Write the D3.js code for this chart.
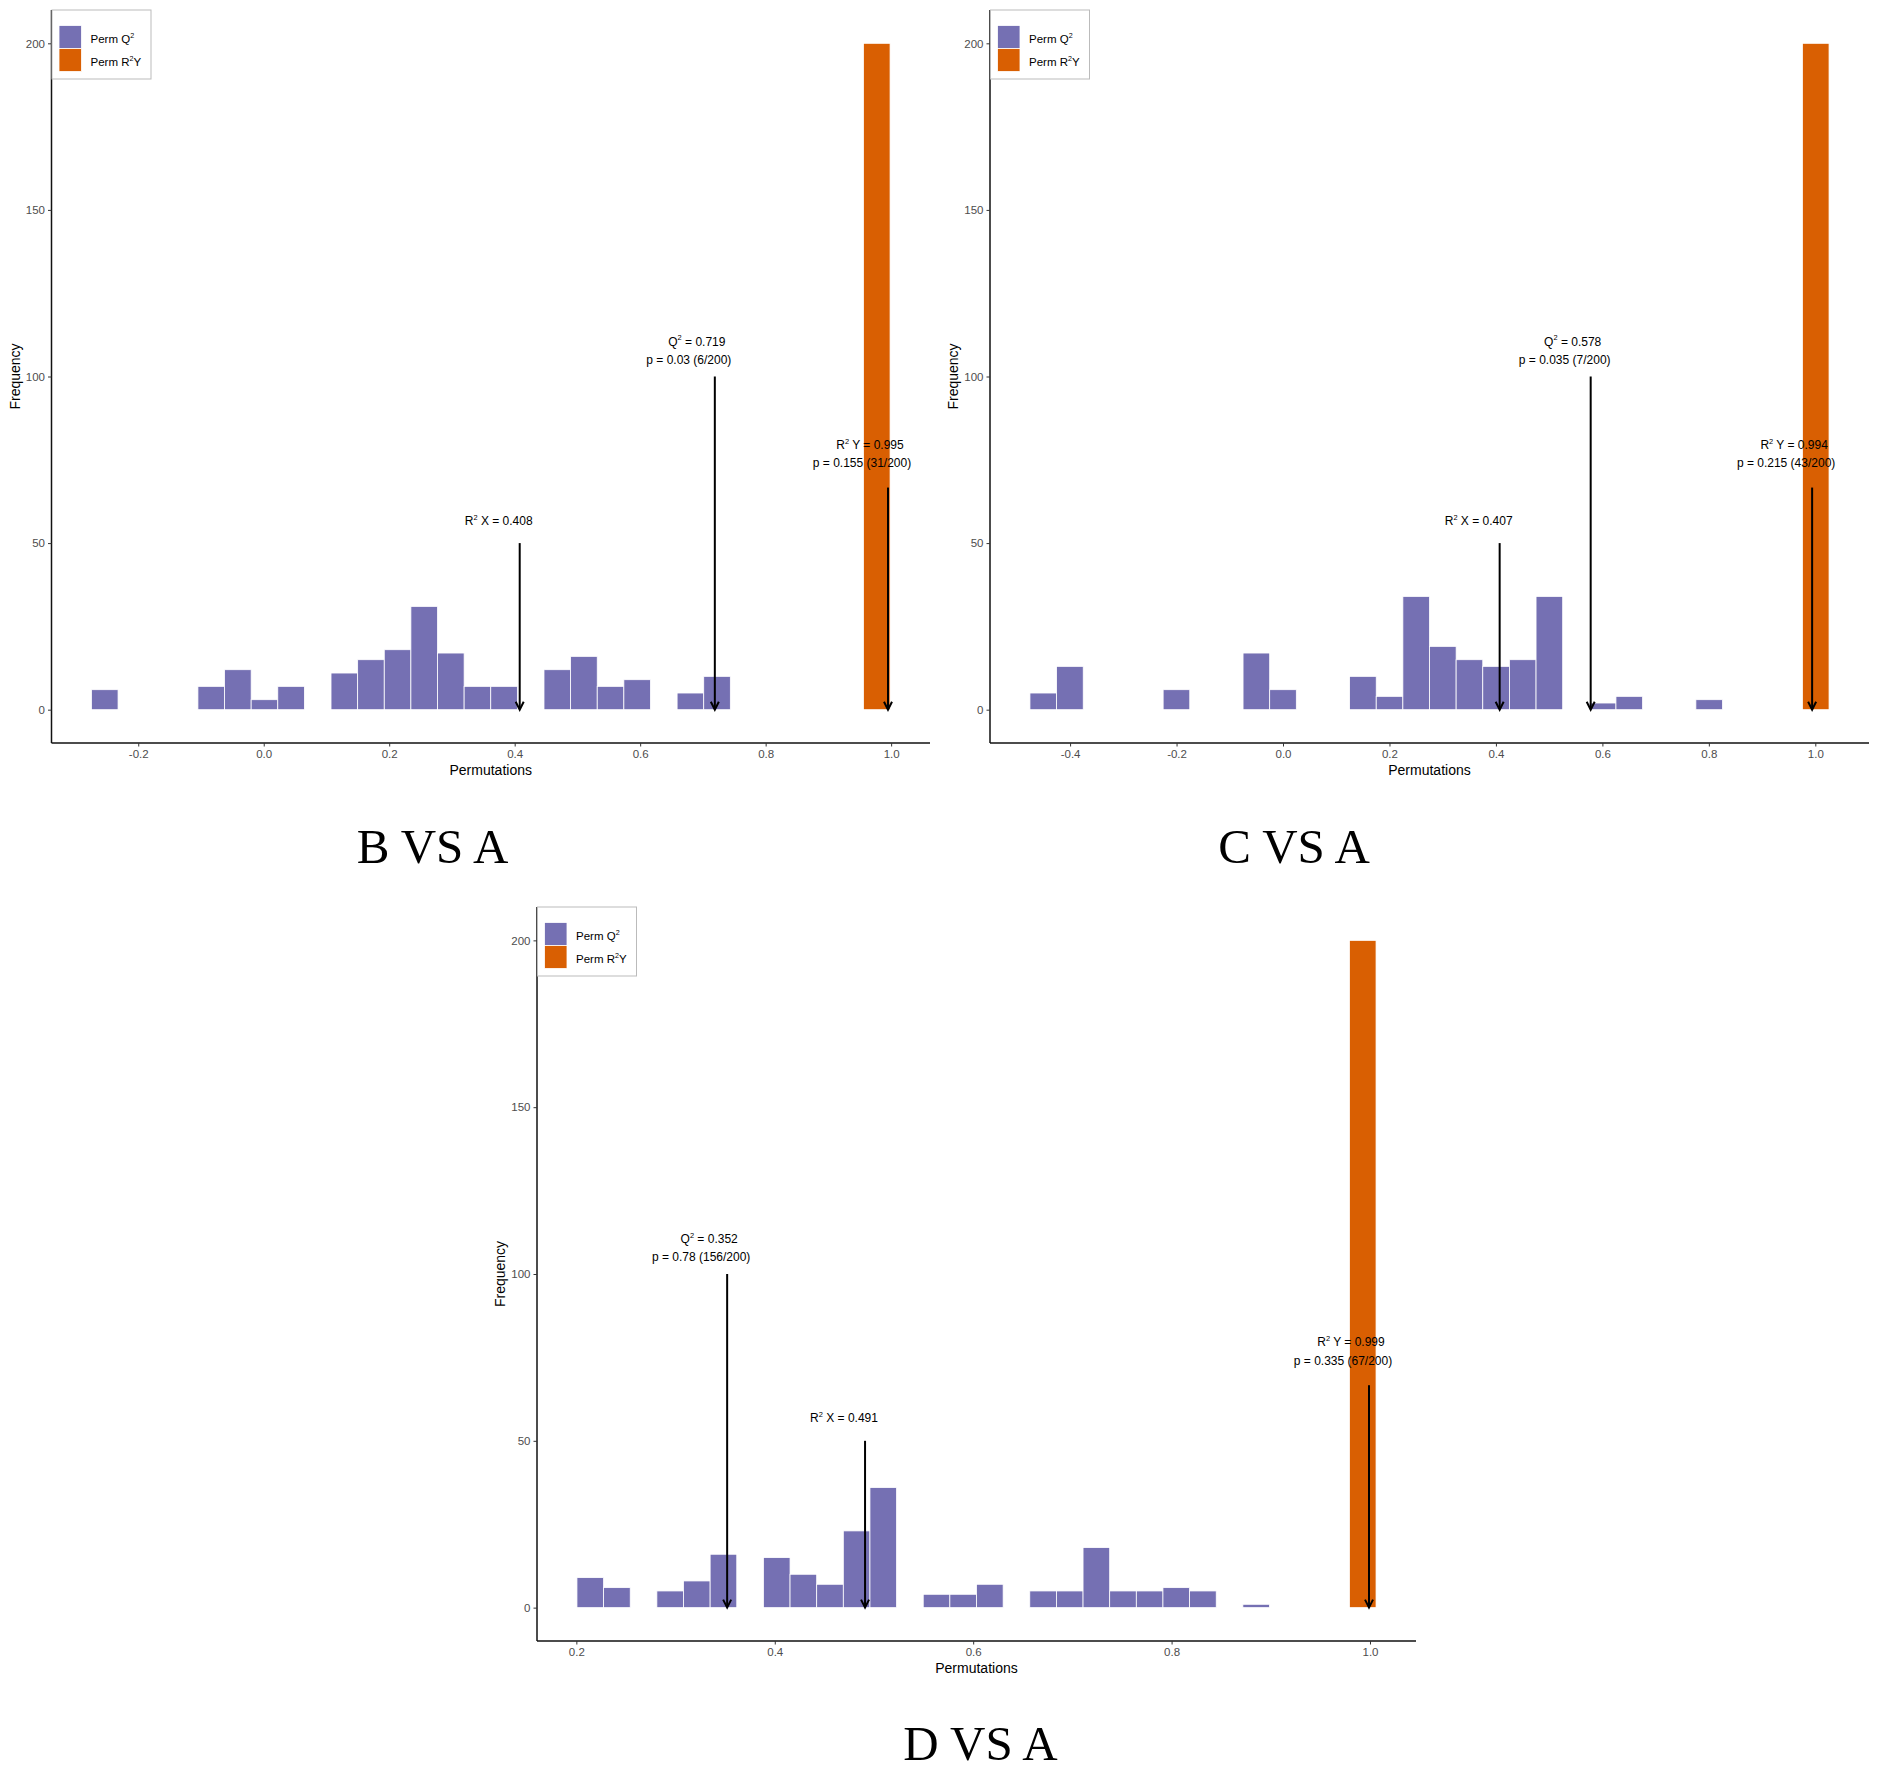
<!DOCTYPE html>
<html>
<head>
<meta charset="utf-8">
<script src="https://cdn.jsdelivr.net/npm/d3@7"></script>
<style>
  body { margin: 0; background: #fff; }
  svg { display: block; }
</style>
</head>
<body>
<div id="vis"></div>
<script>
// permutation histograms, one per comparison
var panelTitles = ["B VS A", "C VS A", "D VS A"];
var binStarts = [-0.2746, -0.4754, 0.2006];
var binWidths = [0.04243, 0.05004, 0.02685];

var q2CountsB = [6, 0, 0, 0, 7, 12, 3, 7, 0, 11, 15, 18, 31, 17, 7, 7, 0, 12, 16, 7, 9, 0, 5, 10];
var q2CountsC = [5, 13, 0, 0, 0, 6, 0, 0, 17, 6, 0, 0, 10, 4, 34, 19, 15, 13, 15, 34, 0, 2, 4, 0, 0, 3];
var q2CountsD = [9, 6, 0, 5, 8, 16, 0, 15, 10, 7, 23, 36, 0, 4, 4, 7, 0, 5, 5, 18, 5, 5, 6, 5, 0, 1];
var q2Counts = [q2CountsB, q2CountsC, q2CountsD];

var r2yBins = [29, 29, 29];
var r2yCounts = [200, 200, 200];

var r2xObs = [0.408, 0.407, 0.491];
var q2Obs = [0.719, 0.578, 0.352];
var q2P = ["0.03 (6/200)", "0.035 (7/200)", "0.78 (156/200)"];
var r2yObs = [0.995, 0.994, 0.999];
var r2yP = ["0.155 (31/200)", "0.215 (43/200)", "0.335 (67/200)"];

// arrow start heights and label heights, in frequency units
var arrowTops = { r2x: 50, q2: 100, r2y: 200 / 3 };
var labelYs = { r2x: [55.5], q2: [109.3, 103.9], r2y: [78.3, 72.8] };

var xTicksB = [-0.2, 0.0, 0.2, 0.4, 0.6, 0.8, 1.0];
var xTicksC = [-0.4, -0.2, 0.0, 0.2, 0.4, 0.6, 0.8, 1.0];
var xTicksD = [0.2, 0.4, 0.6, 0.8, 1.0];
var xTicks = [xTicksB, xTicksC, xTicksD];
var yTicks = [0, 50, 100, 150, 200];

var legendLabels = [["Perm Q", "2", ""], ["Perm R", "2", "Y"]];
var colors = { q2: "#7570B3", r2y: "#D95F02" };

var W = 1879, H = 1775;
var layout = [
  { left: 51.5, right: 930, top: 10, bottom: 743, titleX: 432.5, titleY: 863 },
  { left: 990, right: 1869, top: 10, bottom: 743, titleX: 1294, titleY: 863 },
  { left: 537, right: 1416, top: 907, bottom: 1641, titleX: 980.5, titleY: 1760 }
];
var sans = "'Liberation Sans', Arial, Helvetica, sans-serif";

var svg = d3.select("#vis").append("svg")
  .attr("width", W)
  .attr("height", H)
  .style("background", "#fff");

// text with a superscript 2: parts = [before, sup, after]
function supText(sel, parts, size) {
  sel.append("tspan").text(parts[0]);
  sel.append("tspan")
    .attr("dy", -size * 0.42)
    .attr("font-size", size * 0.62)
    .text(parts[1]);
  sel.append("tspan")
    .attr("dy", size * 0.42)
    .text(parts[2]);
}

function drawPanel(i) {
  var L = layout[i];
  var start = binStarts[i], bw = binWidths[i];
  var end = start + 30 * bw;
  var pad = (end - start) * 0.05;

  var x = d3.scaleLinear()
    .domain([start - pad, end + pad])
    .range([L.left, L.right]);
  var y = d3.scaleLinear()
    .domain([-10, 210])
    .range([L.bottom, L.top]);

  var g = svg.append("g").attr("class", "panel" + i);

  var bins = q2Counts[i].map(function(c, k) {
    return { x0: start + k * bw, x1: start + (k + 1) * bw, n: c, kind: "q2" };
  }).filter(function(d) { return d.n > 0; });
  bins.push({
    x0: start + r2yBins[i] * bw,
    x1: start + (r2yBins[i] + 1) * bw,
    n: r2yCounts[i],
    kind: "r2y"
  });

  g.selectAll("rect.bar")
    .data(bins)
    .enter()
    .append("rect")
    .attr("class", "bar")
    .attr("x", function(d) { return x(d.x0); })
    .attr("width", function(d) { return x(d.x1) - x(d.x0); })
    .attr("y", function(d) { return y(d.n); })
    .attr("height", function(d) { return y(0) - y(d.n); })
    .attr("fill", function(d) { return colors[d.kind]; })
    .attr("stroke", "#fff")
    .attr("stroke-width", 0.8);

  // axes
  var xAxis = d3.axisBottom(x)
    .tickValues(xTicks[i])
    .tickFormat(function(d) { return d.toFixed(1); })
    .tickSize(3.5)
    .tickSizeOuter(0)
    .tickPadding(3);
  var yAxis = d3.axisLeft(y)
    .tickValues(yTicks)
    .tickSize(3.5)
    .tickSizeOuter(0)
    .tickPadding(3);

  var gx = g.append("g")
    .attr("transform", "translate(0," + L.bottom + ")")
    .call(xAxis);
  var gy = g.append("g")
    .attr("transform", "translate(" + L.left + ",0)")
    .call(yAxis);
  [gx, gy].forEach(function(a) {
    a.select(".domain").attr("stroke", "#111").attr("stroke-width", 1.5);
    a.selectAll(".tick line").attr("stroke", "#333").attr("stroke-width", 1);
    a.selectAll(".tick text")
      .attr("fill", "#4D4D4D")
      .style("font-family", sans)
      .style("font-size", "11.5px");
  });
  // extend axis lines across the full panel
  gx.select(".domain").attr("d", "M" + L.left + ",0H" + L.right);
  gy.select(".domain").attr("d", "M0," + L.top + "V" + L.bottom);

  g.append("text")
    .attr("x", (L.left + L.right) / 2)
    .attr("y", L.bottom + 32)
    .attr("text-anchor", "middle")
    .style("font-family", sans)
    .style("font-size", "14px")
    .text("Permutations");

  g.append("text")
    .attr("transform", "translate(" + (L.left - 32) + "," + ((L.top + L.bottom) / 2) + ")rotate(-90)")
    .attr("text-anchor", "middle")
    .style("font-family", sans)
    .style("font-size", "14px")
    .text("Frequency");

  // arrows
  var arrows = [
    { v: r2xObs[i], top: arrowTops.r2x },
    { v: q2Obs[i], top: arrowTops.q2 },
    { v: r2yObs[i], top: arrowTops.r2y }
  ];
  var ga = g.selectAll("g.arrow")
    .data(arrows)
    .enter()
    .append("g")
    .attr("class", "arrow")
    .attr("stroke", "#000")
    .attr("stroke-width", 2)
    .attr("fill", "none");
  ga.append("line")
    .attr("x1", function(d) { return x(d.v); })
    .attr("x2", function(d) { return x(d.v); })
    .attr("y1", function(d) { return y(d.top); })
    .attr("y2", y(0) - 1);
  ga.append("path")
    .attr("d", function(d) {
      var px = x(d.v), py = y(0);
      return "M" + (px - 4) + "," + (py - 8) + "L" + px + "," + py + "L" + (px + 4) + "," + (py - 8);
    });

  // labels
  var fs = 12;
  var t1 = g.append("text")
    .attr("x", x(r2xObs[i]) - 21)
    .attr("y", y(labelYs.r2x[0]))
    .attr("text-anchor", "middle")
    .style("font-family", sans)
    .style("font-size", fs + "px");
  supText(t1, ["R", "2", " X = " + r2xObs[i].toFixed(3)], fs);

  var t2 = g.append("text")
    .attr("x", x(q2Obs[i]) - 18)
    .attr("y", y(labelYs.q2[0]))
    .attr("text-anchor", "middle")
    .style("font-family", sans)
    .style("font-size", fs + "px");
  supText(t2, ["Q", "2", " = " + q2Obs[i].toFixed(3)], fs);
  g.append("text")
    .attr("x", x(q2Obs[i]) - 26)
    .attr("y", y(labelYs.q2[1]))
    .attr("text-anchor", "middle")
    .style("font-family", sans)
    .style("font-size", fs + "px")
    .text("p = " + q2P[i]);

  var t3 = g.append("text")
    .attr("x", x(r2yObs[i]) - 18)
    .attr("y", y(labelYs.r2y[0]))
    .attr("text-anchor", "middle")
    .style("font-family", sans)
    .style("font-size", fs + "px");
  supText(t3, ["R", "2", " Y = " + r2yObs[i].toFixed(3)], fs);
  g.append("text")
    .attr("x", x(r2yObs[i]) - 26)
    .attr("y", y(labelYs.r2y[1]))
    .attr("text-anchor", "middle")
    .style("font-family", sans)
    .style("font-size", fs + "px")
    .text("p = " + r2yP[i]);

  // legend, top-left inside the panel
  var lg = g.append("g")
    .attr("transform", "translate(" + L.left + "," + L.top + ")");
  lg.append("rect")
    .attr("x", 0.5)
    .attr("y", 0)
    .attr("width", 99)
    .attr("height", 69)
    .attr("fill", "#fff")
    .attr("stroke", "#bbb")
    .attr("stroke-width", 1);
  ["q2", "r2y"].forEach(function(k, j) {
    lg.append("rect")
      .attr("x", 7.5)
      .attr("y", 15.5 + j * 23)
      .attr("width", 22.5)
      .attr("height", 23)
      .attr("fill", colors[k])
      .attr("stroke", "#fff")
      .attr("stroke-width", 0.8);
    var lt = lg.append("text")
      .attr("x", 39)
      .attr("y", 33 + j * 23)
      .style("font-family", sans)
      .style("font-size", "11.5px");
    supText(lt, legendLabels[j], 11.5);
  });

  svg.append("text")
    .attr("x", L.titleX)
    .attr("y", L.titleY)
    .attr("text-anchor", "middle")
    .style("font-family", "'Liberation Serif', 'Times New Roman', serif")
    .style("font-size", "49px")
    .text(panelTitles[i]);
}

[0, 1, 2].forEach(drawPanel);
</script>
</body>
</html>
